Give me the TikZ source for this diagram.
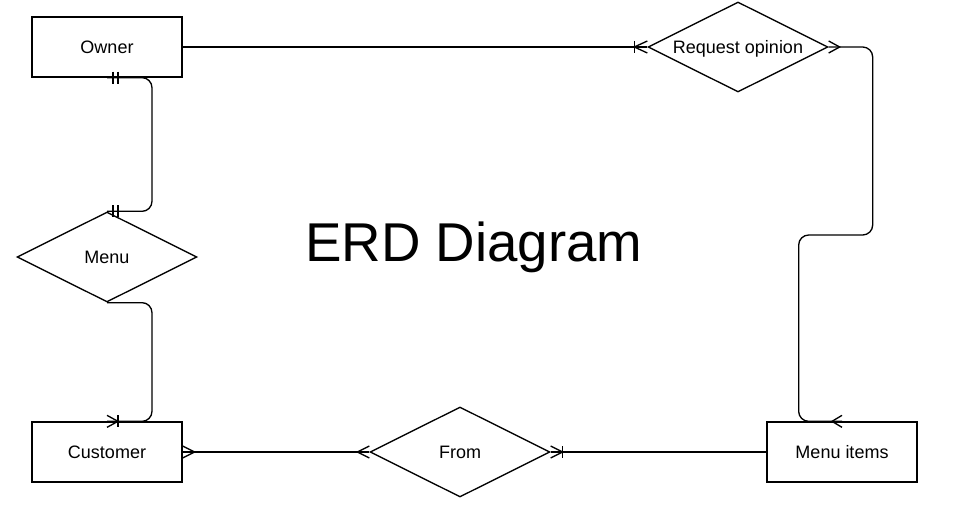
\documentclass[tikz,border=0pt]{standalone}
\usepackage{fontspec}
\setmainfont{Liberation Sans}
\usetikzlibrary{shapes.geometric,calc}
\begin{document}
\begin{tikzpicture}[x=0.75pt,y=-0.75pt,line width=1pt,
  entity/.style={draw,rectangle,minimum width=112.5pt,minimum height=45pt,inner sep=0pt,text height=9.8pt,text depth=0pt,font=\fontsize{13.5}{16}\selectfont},
  rel/.style={draw,diamond,minimum width=135pt,minimum height=67.5pt,inner sep=0pt,aspect=2,text height=9.8pt,text depth=0pt,font=\fontsize{13.5}{16}\selectfont},
  conn/.style={rounded corners=7.5pt},
  mk/.style={line width=1pt}]
\useasboundingbox (0,0) rectangle (955,509);
\node[entity] (owner) at (107,47) {Owner};
\node[entity] (cust) at (107,452) {Customer};
\node[entity] (mi) at (842,452) {Menu items};
\node[rel] (ro) at (738,47) {Request opinion};
\node[rel] (menu) at (107,257) {Menu};
\node[rel] (from) at (460,452) {From};
\node[anchor=base,inner sep=0pt] (title) at (474,262) {\fontsize{41}{48}\selectfont ERD Diagram};
% connectors
\draw (owner.east) -- (ro.west);
\draw[conn] (owner.south) -- ++(45,0) |- (menu.north);
\draw[conn] (menu.south) -- ++(45,0) |- (cust.north);
\draw (cust.east) -- (from.west);
\draw (from.east) -- (mi.west);
\draw[conn] (ro.east) -- ++(44,0) -- ++(0,188) -- ++(-74,0) |- (mi.north);
% markers: Request opinion west (one to many)
\draw[mk] ($(ro.west)+(0,-6)$) -- ($(ro.west)+(-13,0)$) -- ($(ro.west)+(0,6)$);
\draw[mk] ($(ro.west)+(-13,-6)$) -- ($(ro.west)+(-13,6)$);
% Owner south (mandatory one)
\draw[mk] ($(owner.south)+(6,-6)$) -- ($(owner.south)+(6,6)$);
\draw[mk] ($(owner.south)+(11,-6)$) -- ($(owner.south)+(11,6)$);
% Menu north (mandatory one)
\draw[mk] ($(menu.north)+(6,-6)$) -- ($(menu.north)+(6,6)$);
\draw[mk] ($(menu.north)+(11,-6)$) -- ($(menu.north)+(11,6)$);
% Customer north (one to many)
\draw[mk] ($(cust.north)+(0,-6)$) -- ($(cust.north)+(11,0)$) -- ($(cust.north)+(0,6)$);
\draw[mk] ($(cust.north)+(11,-6)$) -- ($(cust.north)+(11,6)$);
% Customer east (many)
\draw[mk] ($(cust.east)+(0,-6)$) -- ($(cust.east)+(12,0)$) -- ($(cust.east)+(0,6)$);
% From west (many)
\draw[mk] ($(from.west)+(0,-6)$) -- ($(from.west)+(-12,0)$) -- ($(from.west)+(0,6)$);
% From east (one to many)
\draw[mk] ($(from.east)+(0,-6)$) -- ($(from.east)+(12,0)$) -- ($(from.east)+(0,6)$);
\draw[mk] ($(from.east)+(12,-6)$) -- ($(from.east)+(12,6)$);
% Request opinion east (many)
\draw[mk] ($(ro.east)+(0,-6)$) -- ($(ro.east)+(11,0)$) -- ($(ro.east)+(0,6)$);
% Menu items north (many)
\draw[mk] ($(mi.north)+(0,-6)$) -- ($(mi.north)+(-10,0)$) -- ($(mi.north)+(0,6)$);
\end{tikzpicture}
\end{document}
